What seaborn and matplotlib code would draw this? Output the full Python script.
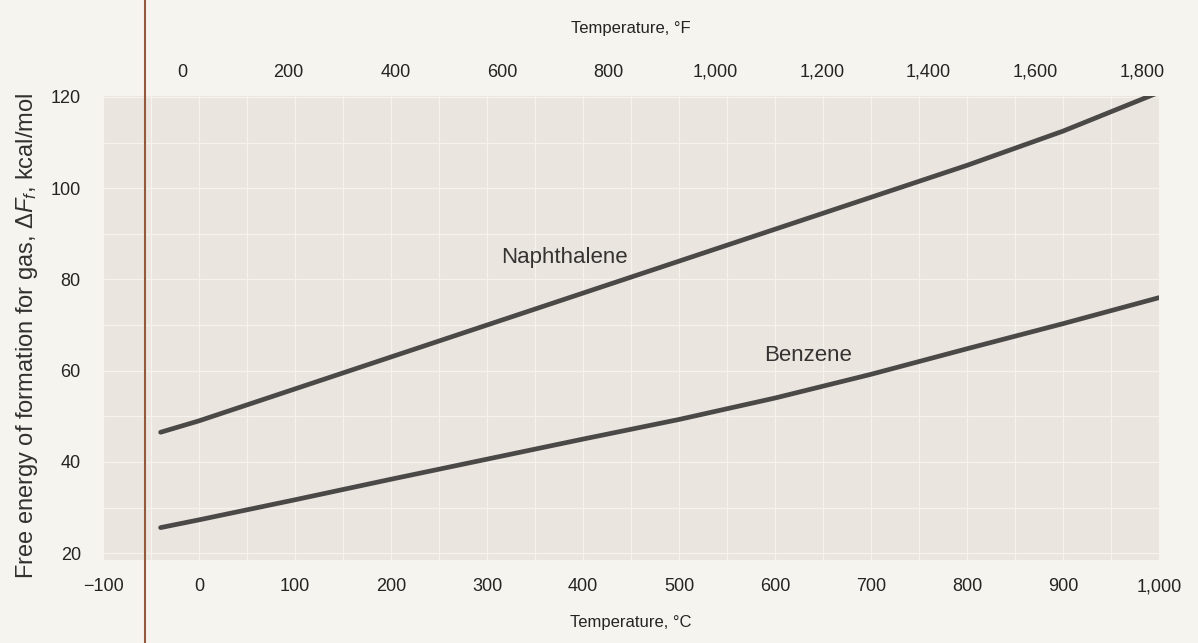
import matplotlib
matplotlib.use("Agg")
import matplotlib.pyplot as plt
import matplotlib.ticker as mticker
from matplotlib import font_manager
import seaborn as sns
import pandas as pd

# ---- data ----
temp_c = [-40, 0, 100, 200, 300, 400, 500, 600, 700, 800, 900, 1000]
naphthalene = [46.5, 49.0, 56.0, 63.0, 70.0, 77.0, 84.0, 91.0, 98.0, 105.0, 112.5, 121.0]
benzene = [25.6, 27.3, 31.7, 36.2, 40.6, 45.0, 49.3, 54.0, 59.2, 64.8, 70.3, 76.0]
series_names = ["Naphthalene", "Benzene"]
label_pos = {"Naphthalene": (381, 84.7), "Benzene": (634, 63.4)}
x_ticks_c = list(range(-100, 1001, 100))
x_ticks_f = list(range(0, 1801, 200))
y_ticks = [20, 40, 60, 80, 100, 120]
binding_line_c = -56

df = pd.DataFrame({
    "T": temp_c * 2,
    "F": naphthalene + benzene,
    "compound": [series_names[0]] * len(temp_c) + [series_names[1]] * len(temp_c),
})

sns.set_theme(style="white")
plt.rcParams["font.family"] = ["Liberation Sans", "DejaVu Sans"]
plt.rcParams["mathtext.fontset"] = "custom"
plt.rcParams["mathtext.it"] = "Liberation Sans:italic"
plt.rcParams["mathtext.rm"] = "Liberation Sans"

installed = {f.name for f in font_manager.fontManager.ttflist}
narrow = "Liberation Sans Narrow" if "Liberation Sans Narrow" in installed else None
if narrow:
    xlab_font = dict(family=[narrow, "DejaVu Sans"], fontsize=14)
else:
    xlab_font = dict(fontsize=12)

ink = "#262423"
page = "#f6f4ef"
fig = plt.figure(figsize=(11.98, 6.43), dpi=100, facecolor=page)
ax = fig.add_axes([103 / 1198, 1 - 560 / 643, (1159 - 103) / 1198, (560 - 96) / 643])
ax.set_facecolor("#ebe5e0")

sns.lineplot(data=df, x="T", y="F", units="compound", estimator=None,
             color="#4b4948", lw=3.4, ax=ax, legend=False)

ax.set_xlim(-100, 1000)
ax.set_ylim(18.5, 120.2)

# grid
ax.set_xticks(range(-100, 1001, 50), minor=True)
ax.set_yticks(range(20, 121, 10), minor=True)
ax.grid(which="minor", color="#f6f3ef", lw=0.9)
ax.grid(which="major", color="#f6f3ef", lw=0.9)
ax.set_axisbelow(True)

for s in ax.spines.values():
    s.set_visible(False)

fmt = mticker.FuncFormatter(lambda v, p: f"{v:,.0f}".replace("-", "\u2212"))
ax.set_xticks(x_ticks_c)
ax.xaxis.set_major_formatter(fmt)
ax.set_yticks(y_ticks)
ax.tick_params(axis="both", which="both", length=0, labelsize=13, labelcolor=ink)
ax.tick_params(axis="x", pad=13)
ax.tick_params(axis="y", pad=16)

ax.set_xlabel("Temperature, \u00b0C", color=ink, labelpad=14, **xlab_font)
ax.set_ylabel("Free energy of formation for gas, $\\Delta F_f$, kcal/mol",
              fontsize=17, color="#333130")
ax.yaxis.set_label_coords(-0.060, 0.483)

top = ax.secondary_xaxis("top", functions=(lambda c: c * 9 / 5 + 32, lambda f: (f - 32) * 5 / 9))
top.set_xticks(x_ticks_f)
top.xaxis.set_major_formatter(fmt)
top.tick_params(length=0, labelsize=13, labelcolor=ink, pad=11)
top.set_xlabel("Temperature, \u00b0F", color=ink, labelpad=22, **xlab_font)
for s in top.spines.values():
    s.set_visible(False)

for name in series_names:
    x, y = label_pos[name]
    ax.text(x, y, name, ha="center", va="center", fontsize=16, color="#353332")

ax.axvline(binding_line_c, ymin=-0.3, ymax=1.3, clip_on=False, color="#935a3d", lw=1.5)

fig.savefig("out.png", dpi=100, facecolor=page)
